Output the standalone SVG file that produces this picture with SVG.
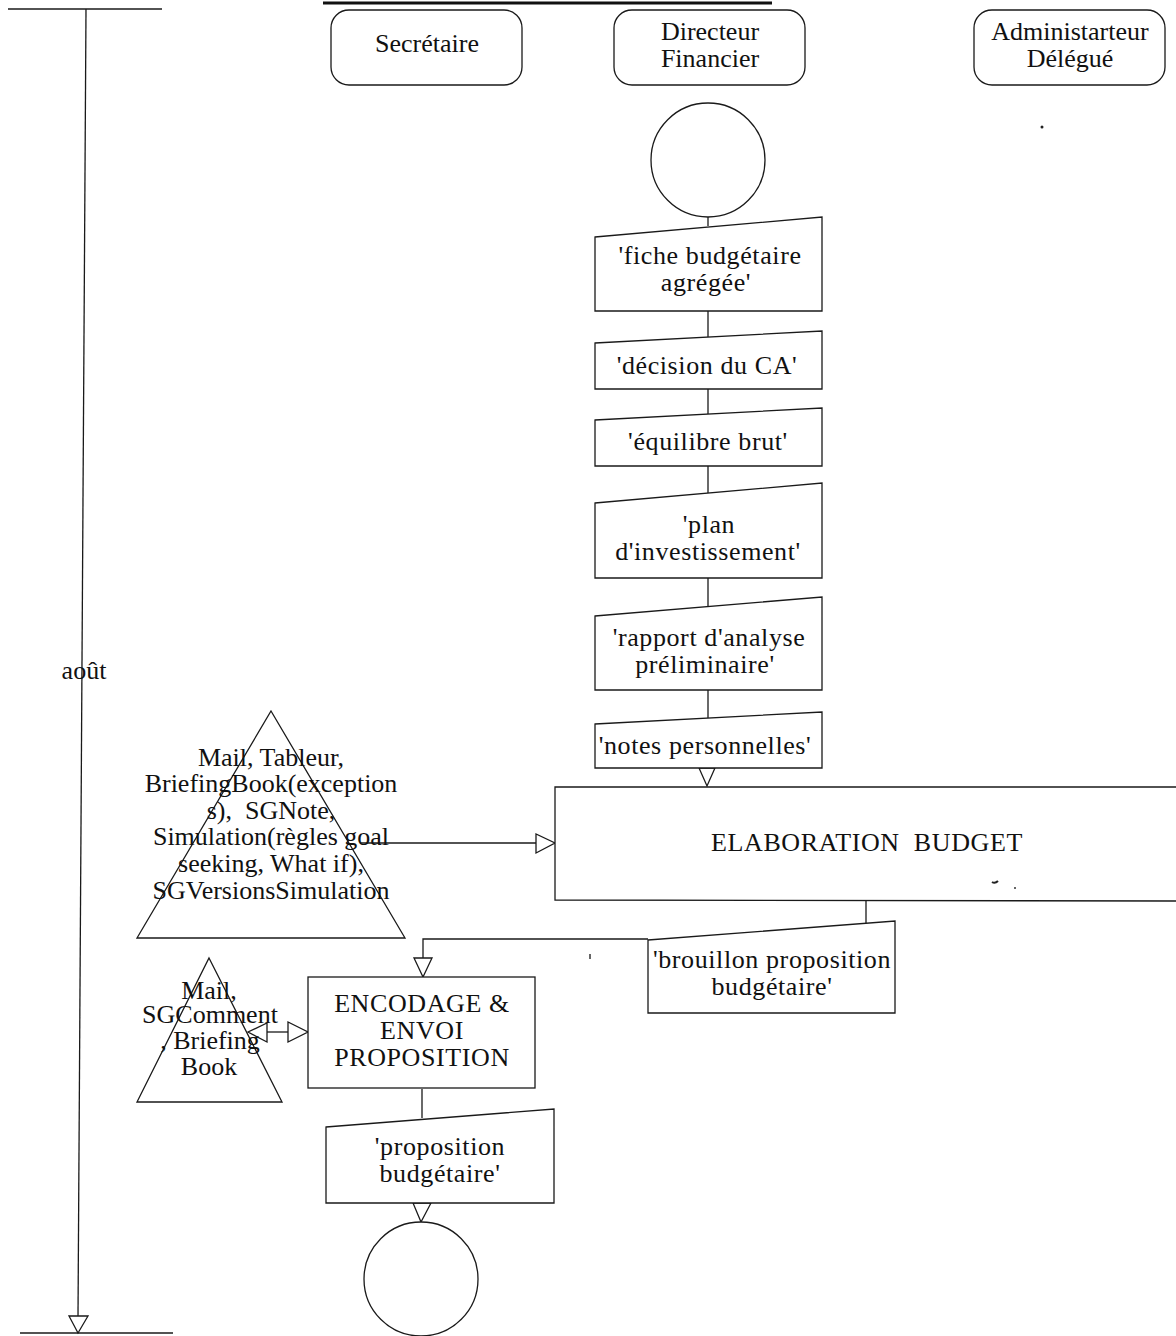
<svg xmlns="http://www.w3.org/2000/svg" width="1176" height="1336" viewBox="0 0 1176 1336">
<style>
.s{fill:none;stroke:#1a1a1a;stroke-width:1.3}
.w{fill:#fff;stroke:#1a1a1a;stroke-width:1.3}
.t{font-family:"Liberation Serif","Times New Roman",serif;font-size:26px;fill:#111;text-anchor:middle}
.d{letter-spacing:0.6px}
.ah{fill:#fff;stroke:#1a1a1a;stroke-width:1.3}
</style>
<rect width="1176" height="1336" fill="#fff"/>
<g id="timeline">
<line class="s" x1="8" y1="9" x2="162" y2="9"/>
<line class="s" x1="86" y1="9" x2="78" y2="1316"/>
<polygon class="ah" points="69,1316 88,1316 78,1333"/>
<line class="s" x1="20" y1="1333" x2="173" y2="1333"/>
<text class="t" x="84" y="679">août</text>
</g>
<line x1="323" y1="3" x2="772" y2="3" stroke="#111" stroke-width="3"/>
<g id="lane-secretaire">
<rect class="w" x="331" y="10" width="191" height="75" rx="18"/>
<text class="t" x="427" y="52">Secrétaire</text>
</g>
<g id="lane-directeur">
<rect class="w" x="614" y="10" width="191" height="75" rx="18"/>
<text class="t" x="710" y="40">Directeur</text>
<text class="t" x="710" y="67">Financier</text>
</g>
<g id="lane-administrateur">
<rect class="w" x="974" y="10" width="191" height="75" rx="18"/>
<text class="t" x="1070" y="40">Administarteur</text>
<text class="t" x="1070" y="67">Délégué</text>
</g>
<circle cx="1042" cy="127" r="1.5" fill="#222"/>
<g id="connectors">
<line class="s" x1="708" y1="217" x2="708" y2="226"/>
<line class="s" x1="708" y1="311" x2="708" y2="337"/>
<line class="s" x1="708" y1="389" x2="708" y2="414"/>
<line class="s" x1="708" y1="466" x2="708" y2="494"/>
<line class="s" x1="708" y1="578" x2="708" y2="607"/>
<line class="s" x1="708" y1="690" x2="708" y2="718"/>
<polygon class="ah" points="699,768 715,768 707,786"/>
<line class="s" x1="360" y1="843" x2="536" y2="843"/>
<polygon class="ah" points="536,834 536,853 555,843"/>
<line class="s" x1="866" y1="901" x2="866" y2="923"/>
<polyline class="s" points="648,939 423,939 423,958"/>
<polygon class="ah" points="414,958 432,958 423,977"/>
<line class="s" x1="267" y1="1032" x2="288" y2="1032"/>
<polygon class="ah" points="267,1023 267,1042 248,1032"/>
<polygon class="ah" points="288,1022 288,1042 308,1032"/>
<line class="s" x1="422" y1="1089" x2="422" y2="1118"/>
<polygon class="ah" points="413,1203 431,1203 421,1222"/>
</g>
<g id="start">
<circle class="w" cx="708" cy="160" r="57"/>
</g>
<g id="doc-fiche">
<polygon class="w" points="595,237 822,217 822,311 595,311"/>
<text class="t d" x="710" y="264">'fiche budgétaire</text>
<text class="t d" x="706" y="291">agrégée'</text>
</g>
<g id="doc-decision">
<polygon class="w" points="595,343 822,331 822,389 595,389"/>
<text class="t d" x="707" y="374">'décision du CA'</text>
</g>
<g id="doc-equilibre">
<polygon class="w" points="595,420 822,408 822,466 595,466"/>
<text class="t d" x="708" y="450">'équilibre brut'</text>
</g>
<g id="doc-plan">
<polygon class="w" points="595,503 822,483 822,578 595,578"/>
<text class="t d" x="709" y="533">'plan</text>
<text class="t d" x="708" y="560">d'investissement'</text>
</g>
<g id="doc-rapport">
<polygon class="w" points="595,616 822,597 822,690 595,690"/>
<text class="t d" x="709" y="646">'rapport d'analyse</text>
<text class="t d" x="705" y="673">préliminaire'</text>
</g>
<g id="doc-notes">
<polygon class="w" points="595,724 822,712 822,768 595,768"/>
<text class="t d" x="705" y="754">'notes personnelles'</text>
</g>
<g id="elaboration">
<polyline class="w" points="1176,787 555,787 555,900 1176,901"/>
<text class="t d" x="867" y="851">ELABORATION&#160; BUDGET</text>
<path d="M992,882 q3,2 6,-1" stroke="#222" stroke-width="2" fill="none"/>
<circle cx="1015" cy="888" r="1" fill="#333"/>
</g>
<g id="tools-elaboration">
<polygon class="s" points="271,711 405,938 137,938"/>
<text class="t" x="271" y="766">Mail, Tableur,</text>
<text class="t" x="271" y="792">BriefingBook(exception</text>
<text class="t" x="271" y="819">s),&#160; SGNote,</text>
<text class="t" x="271" y="845">Simulation(règles goal</text>
<text class="t" x="271" y="872">seeking, What if),</text>
<text class="t" x="271" y="899">SGVersionsSimulation</text>
</g>
<g id="doc-brouillon">
<polygon class="w" points="648,940 895,921 895,1013 648,1013"/>
<text class="t d" x="772" y="968">'brouillon proposition</text>
<text class="t d" x="772" y="995">budgétaire'</text>
</g>
<line x1="590" y1="954" x2="590" y2="959" stroke="#333" stroke-width="1.5"/>
<g id="encodage">
<rect class="w" x="308" y="977" width="227" height="111"/>
<text class="t d" x="422" y="1012">ENCODAGE &amp;</text>
<text class="t d" x="422" y="1039">ENVOI</text>
<text class="t d" x="422" y="1066">PROPOSITION</text>
</g>
<g id="tools-encodage">
<polygon class="s" points="209,958 282,1102 137,1102"/>
<text class="t" x="209" y="999">Mail,</text>
<text class="t" x="210" y="1023">SGComment</text>
<text class="t" x="210" y="1049">, Briefing</text>
<text class="t" x="209" y="1075">Book</text>
</g>
<g id="doc-proposition">
<polygon class="w" points="326,1127 554,1109 554,1203 326,1203"/>
<text class="t d" x="440" y="1155">'proposition</text>
<text class="t d" x="440" y="1182">budgétaire'</text>
</g>
<g id="end">
<circle class="w" cx="421" cy="1279" r="57"/>
</g>
</svg>
